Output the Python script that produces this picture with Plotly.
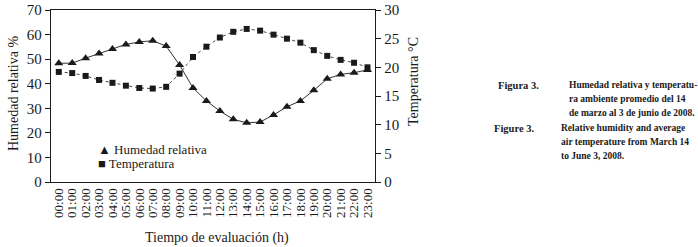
import plotly.graph_objects as go

hours = [f"{h:02d}:00" for h in range(24)]
humedad = [48.3, 48.4, 50.4, 52.3, 54.1, 56.0, 57.0, 57.5, 55.3, 47.6, 38.3, 33.0,
           28.9, 25.5, 24.1, 24.4, 27.3, 30.6, 33.0, 37.3, 42.0, 43.8, 44.5, 45.6]
temperatura = [19.2, 19.0, 18.5, 17.8, 17.3, 16.8, 16.4, 16.3, 16.6, 18.9, 21.8, 23.6,
               25.2, 26.2, 26.7, 26.4, 25.7, 25.0, 24.3, 23.0, 22.0, 21.3, 20.8, 20.0]

FONT = "Liberation Serif"
INK = "#1a1a1a"

fig = go.Figure()
fig.add_trace(go.Scatter(x=hours, y=humedad, mode="lines+markers", name="Humedad relativa",
                         line=dict(color="#333333", width=1),
                         marker=dict(symbol="triangle-up", size=8, color=INK)))
fig.add_trace(go.Scatter(x=hours, y=temperatura, mode="lines+markers", name="Temperatura", yaxis="y2",
                         line=dict(color="#444444", width=1, dash="dot"),
                         marker=dict(symbol="square", size=6, color=INK)))

fig.update_layout(
    width=698, height=247,
    margin=dict(l=51, r=323, t=10, b=65, autoexpand=False),
    paper_bgcolor="white", plot_bgcolor="white",
    showlegend=False,
    font=dict(family=FONT, size=14, color=INK),
    xaxis=dict(type="category", range=[-0.58, 23.56], showgrid=False, zeroline=False,
               showline=True, mirror=True, linecolor=INK, linewidth=1.3, automargin=False,
               tickmode="array", tickvals=hours, ticktext=hours,
               ticks="", tickangle=-90, tickfont=dict(size=13)),
    yaxis=dict(range=[0, 70], dtick=10, showgrid=False, zeroline=False, automargin=False,
               showline=True, linecolor=INK, linewidth=1.3,
               ticks="outside", ticklen=5, tickcolor=INK, tickfont=dict(size=15)),
    yaxis2=dict(range=[0, 30], dtick=5, overlaying="y", side="right", showgrid=False,
                zeroline=False, showline=True, linecolor=INK, linewidth=1.3, automargin=False,
                ticks="outside", ticklen=5, tickcolor=INK, tickfont=dict(size=15)),
)

def px(xp):
    return (xp - 51) / 324

def py(yp):
    return (182 - yp) / 172

ann = []
ann.append(dict(text="Humedad relativa %", x=px(13), y=py(94), textangle=-90, font=dict(size=14)))
ann.append(dict(text="Temperatura °C", x=px(413), y=py(82), textangle=-90, font=dict(size=14)))
ann.append(dict(text="Tiempo de evaluación (h)", x=px(217), y=py(238), font=dict(size=14)))
# legend drawn as text
ann.append(dict(text="▲ Humedad relativa", x=px(97), y=py(149), xanchor="left", font=dict(size=13)))
ann.append(dict(text="■ Temperatura", x=px(97), y=py(163), xanchor="left", font=dict(size=13)))

cap_size = 9.5
labels = [("Figura 3.", 497, 85), ("Figure 3.", 493, 128)]
lines = [("Humedad relativa y temperatu-", 568, 85), ("ra ambiente promedio del 14", 568, 99),
         ("de marzo al 3 de junio de 2008.", 568, 113), ("Relative humidity and average", 560, 128),
         ("air temperature from March 14", 560, 142), ("to June 3, 2008.", 560, 156)]
for t, x0, y0 in labels:
    ann.append(dict(text=f"<b>{t}</b>", x=px(x0), y=py(y0), xanchor="left", font=dict(size=10.5)))
for t, x0, y0 in lines:
    ann.append(dict(text=f"<b>{t}</b>", x=px(x0), y=py(y0), xanchor="left", font=dict(size=cap_size)))

for a in ann:
    a.setdefault("xanchor", "center")
    a.update(xref="paper", yref="paper", yanchor="middle", showarrow=False, borderpad=0)
fig.update_layout(annotations=ann)

fig.write_html("out.html", config={"displayModeBar": False},
               post_script="document.body.style.margin='0';")
